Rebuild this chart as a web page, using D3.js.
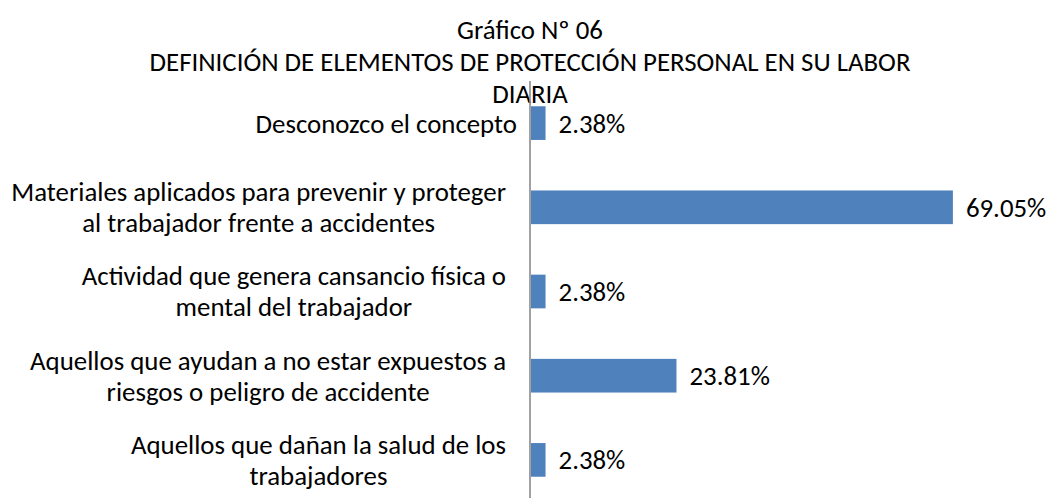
<!DOCTYPE html>
<html>
<head>
<meta charset="utf-8">
<script src="https://cdn.jsdelivr.net/npm/d3@7"></script>
<style>
  body { margin: 0; background: #fff; }
  svg text { font-family: Carlito, Calibri, Lato, sans-serif; fill: #000; }
</style>
</head>
<body>
<div id="chart"></div>
<script>
// Chart data
const titleLines = ["Gráfico Nº 06", "DEFINICIÓN DE ELEMENTOS DE PROTECCIÓN PERSONAL EN SU LABOR", "DIARIA"];
const categories = [
    ["Desconozco el concepto"],
    ["Materiales aplicados para prevenir y proteger", "al trabajador frente a accidentes"],
    ["Actividad que genera cansancio física o", "mental del trabajador"],
    ["Aquellos que ayudan a no estar expuestos a", "riesgos o peligro de accidente"],
    ["Aquellos que dañan la salud de los", "trabajadores"]
];
const values = [2.38, 69.05, 2.38, 23.81, 2.38];

const width = 1046, height = 498;
const barColor = "#4F81BD";

const svg = d3.select("#chart").append("svg")
    .attr("width", width)
    .attr("height", height);

// Pick a font size so the widest label line matches the reference width (~495px)
const probe = svg.append("text").attr("font-size", 20).text(categories[1][0]);
const fontSize = 20 * 495 / probe.node().getComputedTextLength();
probe.remove();

const x = d3.scaleLinear().domain([0, 70]).range([531, 531 + 70 * 6.11]);
const y = d3.scaleBand()
    .domain(d3.range(categories.length))
    .range([81, 502])
    .paddingInner(0.6)
    .paddingOuter(0.3);

// Title
svg.append("text")
    .attr("text-anchor", "middle")
    .attr("font-size", fontSize)
    .selectAll("tspan")
    .data(titleLines)
    .join("tspan")
    .attr("x", 530)
    .attr("y", (d, i) => 39 + i * 32)
    .text(d => d);

// Bars
svg.selectAll(".bar")
    .data(values)
    .join("rect")
    .attr("class", "bar")
    .attr("x", x(0))
    .attr("y", (d, i) => y(i))
    .attr("width", d => x(d) - x(0))
    .attr("height", y.bandwidth())
    .attr("fill", barColor);

// Category axis line
svg.append("line")
    .attr("x1", x(0) - 1).attr("x2", x(0) - 1)
    .attr("y1", y.range()[0]).attr("y2", y.range()[1])
    .attr("stroke", "#8a8a8a")
    .attr("stroke-width", 1.6);

// Category labels: lines centered with each other, block right-aligned to the axis
const lineH = 31;
categories.forEach((lines, i) => {
    const g = svg.append("text")
        .attr("text-anchor", "middle")
        .attr("font-size", fontSize);
    const tmp = lines.map(l => {
        const t = svg.append("text").attr("font-size", fontSize).text(l);
        const w = t.node().getComputedTextLength();
        t.remove();
        return w;
    });
    const maxW = d3.max(tmp);
    const right = lines.length > 1 ? 506 : 517;
    const cy = y(i) + y.bandwidth() / 2;
    g.selectAll("tspan")
        .data(lines)
        .join("tspan")
        .attr("x", right - maxW / 2)
        .attr("y", (d, j) => cy + (j - (lines.length - 1) / 2) * lineH)
        .attr("dy", "0.35em")
        .text(d => d);
});

// Value labels
svg.selectAll(".val")
    .data(values)
    .join("text")
    .attr("class", "val")
    .attr("font-size", fontSize)
    .attr("x", d => x(d) + 13)
    .attr("y", (d, i) => y(i) + y.bandwidth() / 2)
    .attr("dy", "0.35em")
    .text(d => d.toFixed(2) + "%");
</script>
</body>
</html>
